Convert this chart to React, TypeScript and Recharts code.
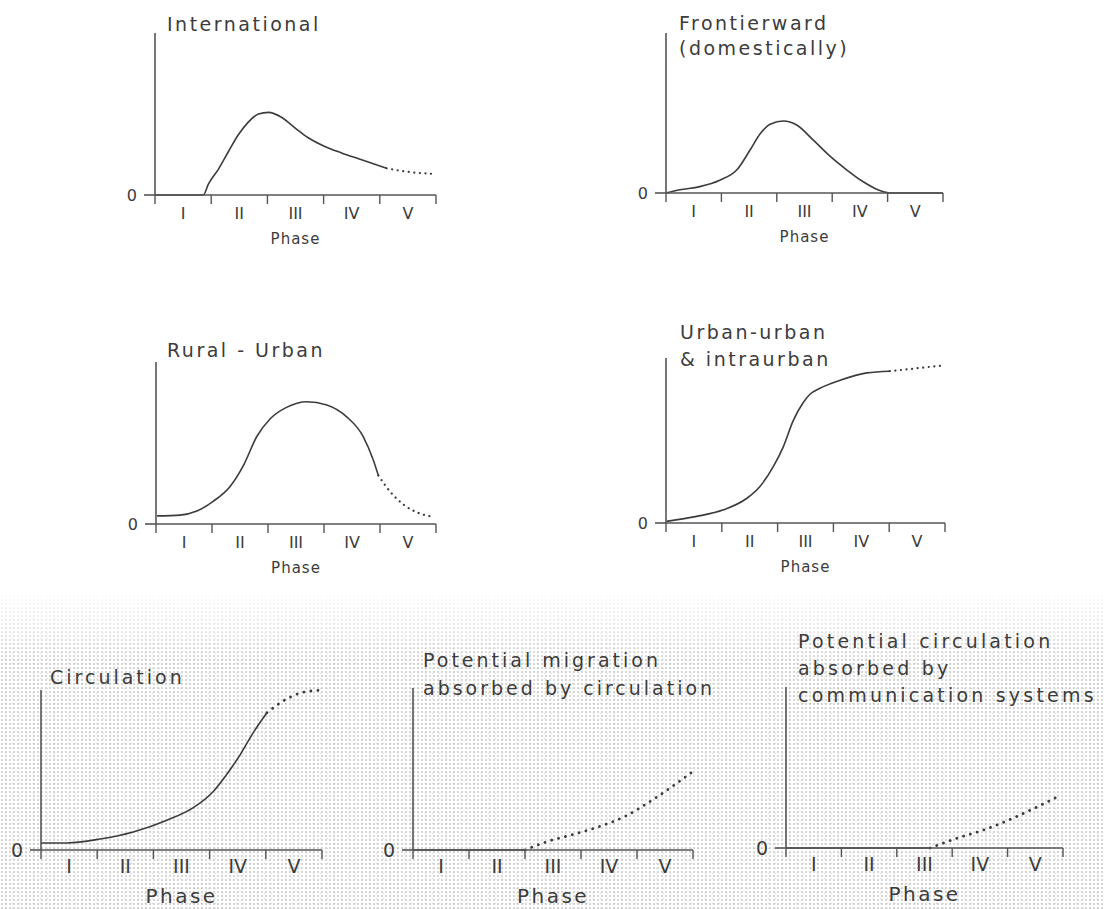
import React from "react";
import { LineChart, Line, XAxis, YAxis, Label } from "recharts";

// phase axis
const phaseTicks = [0, 1, 2, 3, 4, 5];
const phaseMids = [0.5, 1.5, 2.5, 3.5, 4.5];
const phaseNames = ["I", "II", "III", "IV", "V"];

// International
const intlX = [0, 0.86, 0.95, 1.13, 1.31, 1.48, 1.66, 1.84, 2.02, 2.25, 2.49, 2.72, 3.02, 3.32, 3.61, 3.91, 4.12, 4.5, 4.97];
const intlY = [0, 0, 0.067, 0.16, 0.27, 0.37, 0.45, 0.5, 0.51, 0.48, 0.415, 0.355, 0.3, 0.26, 0.225, 0.19, 0.165, 0.143, 0.13];
const intlDotFrom = 16;

// Frontierward (domestically)
const frontX = [0, 0.25, 0.61, 0.97, 1.28, 1.52, 1.7, 1.88, 2.12, 2.36, 2.66, 2.96, 3.26, 3.56, 3.86, 4.04, 5.0];
const frontY = [0, 0.02, 0.04, 0.08, 0.145, 0.27, 0.37, 0.43, 0.45, 0.425, 0.33, 0.23, 0.145, 0.07, 0.015, 0, 0];
const frontDotFrom = 99;

// Rural - Urban
const ruralX = [0.02, 0.43, 0.73, 1.02, 1.32, 1.56, 1.8, 2.04, 2.33, 2.69, 3.05, 3.41, 3.7, 3.88, 3.97, 4.18, 4.42, 4.71, 4.95];
const ruralY = [0.05, 0.055, 0.08, 0.14, 0.23, 0.36, 0.54, 0.65, 0.72, 0.755, 0.735, 0.66, 0.54, 0.395, 0.3, 0.2, 0.12, 0.065, 0.045];
const ruralDotFrom = 14;

// Urban-urban & intraurban
const urbanX = [0.01, 0.55, 1.03, 1.45, 1.68, 1.92, 2.1, 2.28, 2.46, 2.58, 2.75, 3.12, 3.6, 4.01, 4.97];
const urbanY = [0.01, 0.04, 0.08, 0.15, 0.22, 0.34, 0.46, 0.62, 0.73, 0.78, 0.815, 0.865, 0.91, 0.92, 0.955];
const urbanDotFrom = 13;

// Circulation
const circX = [0, 0.46, 1.05, 1.64, 2.24, 2.71, 3.07, 3.3, 3.54, 3.78, 4.02, 4.31, 4.61, 5.0];
const circY = [0.045, 0.045, 0.07, 0.115, 0.19, 0.27, 0.375, 0.48, 0.605, 0.75, 0.875, 0.95, 1.0, 1.02];
const circDotFrom = 10;

// Potential migration absorbed by circulation
const migX = [0, 2.0, 2.38, 2.85, 3.33, 3.8, 4.28, 4.98];
const migY = [0, 0, 0.05, 0.095, 0.145, 0.21, 0.31, 0.48];
const migDotFrom = 1;

// Potential circulation absorbed by communication systems
const commX = [0, 2.6, 3.08, 3.55, 4.03, 4.5, 4.97];
const commY = [0, 0, 0.06, 0.11, 0.175, 0.25, 0.33];
const commDotFrom = 1;

type Row = { x: number; solid: number | null; dotted: number | null };

function buildRows(xs: number[], ys: number[], dotFrom: number): Row[] {
  return xs.map((x, i) => ({
    x,
    solid: i <= dotFrom ? ys[i] : null,
    dotted: i >= dotFrom ? ys[i] : null,
  }));
}

const INK = "#3c3c3c";
const AXIS = "#555";

const NoLabel = () => <g />;

interface PanelProps {
  left: number;
  top: number;
  bottom: number;
  right: number;
  rows: Row[];
  big?: boolean;
}

function Panel({ left, top, bottom, right, rows, big }: PanelProps) {
  const padL = 44;
  const padT = 6;
  const padR = 8;
  const padB = big ? 58 : 56;
  const width = right - left + padL + padR;
  const height = bottom - top + padT + padB;
  const numSize = big ? 19 : 16;
  return (
    <div style={{ position: "absolute", left: left - padL, top: top - padT }}>
      <LineChart width={width} height={height} data={rows} margin={{ top: padT, right: padR, left: 0, bottom: 0 }}>
        <YAxis
          width={padL}
          type="number"
          domain={[0, 1]}
          ticks={[0]}
          tickFormatter={() => "0"}
          tickSize={11}
          tickMargin={7}
          tick={{ fontSize: big ? 19 : 16, fill: INK }}
          stroke={AXIS}
          strokeWidth={1.6}
        />
        <XAxis
          xAxisId="b"
          type="number"
          dataKey="x"
          domain={[0, 5]}
          ticks={phaseTicks}
          tick={NoLabel}
          tickSize={9}
          height={3}
          stroke={AXIS}
          strokeWidth={1.4}
        />
        <XAxis
          xAxisId="p"
          type="number"
          dataKey="x"
          domain={[0, 5]}
          ticks={phaseMids}
          tickFormatter={(v: number) => phaseNames[Math.round(v - 0.5)]}
          axisLine={false}
          tickLine={false}
          tickSize={big ? 3 : 4}
          tickMargin={big ? 4 : 6}
          height={padB - 3}
          tick={{ fontSize: numSize, fill: INK }}
        >
          <Label
            value="Phase"
            position="insideBottom"
            offset={big ? 5 : 7}
            style={{ fontSize: big ? 20 : 15, letterSpacing: big ? 2.5 : 1, fill: INK }}
          />
        </XAxis>
        <Line
          xAxisId="b"
          type="monotone"
          dataKey="solid"
          stroke={INK}
          strokeWidth={1.6}
          dot={false}
          activeDot={false}
          isAnimationActive={false}
        />
        <Line
          xAxisId="b"
          type="monotone"
          dataKey="dotted"
          stroke={INK}
          strokeWidth={big ? 2.8 : 2.2}
          strokeDasharray={big ? "0.1 7" : "0.1 5.5"}
          strokeLinecap="round"
          dot={false}
          activeDot={false}
          isAnimationActive={false}
        />
      </LineChart>
    </div>
  );
}

function Title({ lines, x, y, lh = 27, ls = 2.5 }: { lines: string[]; x: number; y: number; lh?: number; ls?: number }) {
  return (
    <div
      style={{
        position: "absolute",
        left: x,
        top: y,
        fontSize: 19,
        lineHeight: `${lh}px`,
        letterSpacing: ls,
        color: INK,
        whiteSpace: "nowrap",
      }}
    >
      {lines.map((l) => (
        <div key={l}>{l}</div>
      ))}
    </div>
  );
}

export default function App() {
  return (
    <div
      style={{
        position: "absolute",
        left: 0,
        top: 0,
        width: 1104,
        height: 909,
        overflow: "hidden",
        background: "#fff",
        fontFamily: "'DejaVu Sans', sans-serif",
      }}
    >
      <div
        style={{
          position: "absolute",
          left: 0,
          top: 590,
          width: 1104,
          height: 319,
          background:
            "radial-gradient(circle, rgba(0,0,0,0.2) 0.6px, transparent 1.1px) 0 0 / 4px 4px, radial-gradient(circle, rgba(0,0,0,0.12) 0.6px, transparent 1.1px) 2px 1px / 7px 5px",
          WebkitMaskImage: "linear-gradient(to bottom, transparent 0px, #000 70px)",
          maskImage: "linear-gradient(to bottom, transparent 0px, #000 70px)",
        }}
      />

      <Title lines={["International"]} x={167} y={11} />
      <Panel left={155} top={33} bottom={195} right={436} rows={buildRows(intlX, intlY, intlDotFrom)} />

      <Title lines={["Frontierward", "(domestically)"]} x={679} y={11} lh={25} />
      <Panel left={666} top={33} bottom={193} right={943} rows={buildRows(frontX, frontY, frontDotFrom)} />

      <Title lines={["Rural - Urban"]} x={167} y={337} />
      <Panel left={156} top={362} bottom={524} right={436} rows={buildRows(ruralX, ruralY, ruralDotFrom)} />

      <Title lines={["Urban-urban", "& intraurban"]} x={680} y={319} />
      <Panel left={666} top={358} bottom={523} right={945} rows={buildRows(urbanX, urbanY, urbanDotFrom)} />

      <Title lines={["Circulation"]} x={50} y={664} ls={3} />
      <Panel left={41} top={690} bottom={850} right={322} rows={buildRows(circX, circY, circDotFrom)} big />

      <Title lines={["Potential migration", "absorbed by circulation"]} x={423} y={646} ls={3} lh={28} />
      <Panel left={413} top={688} bottom={850} right={693} rows={buildRows(migX, migY, migDotFrom)} big />

      <Title
        lines={["Potential circulation", "absorbed by", "communication systems"]}
        x={798}
        y={628}
        ls={3.2}
      />
      <Panel left={786} top={687} bottom={848} right={1063} rows={buildRows(commX, commY, commDotFrom)} big />
    </div>
  );
}
